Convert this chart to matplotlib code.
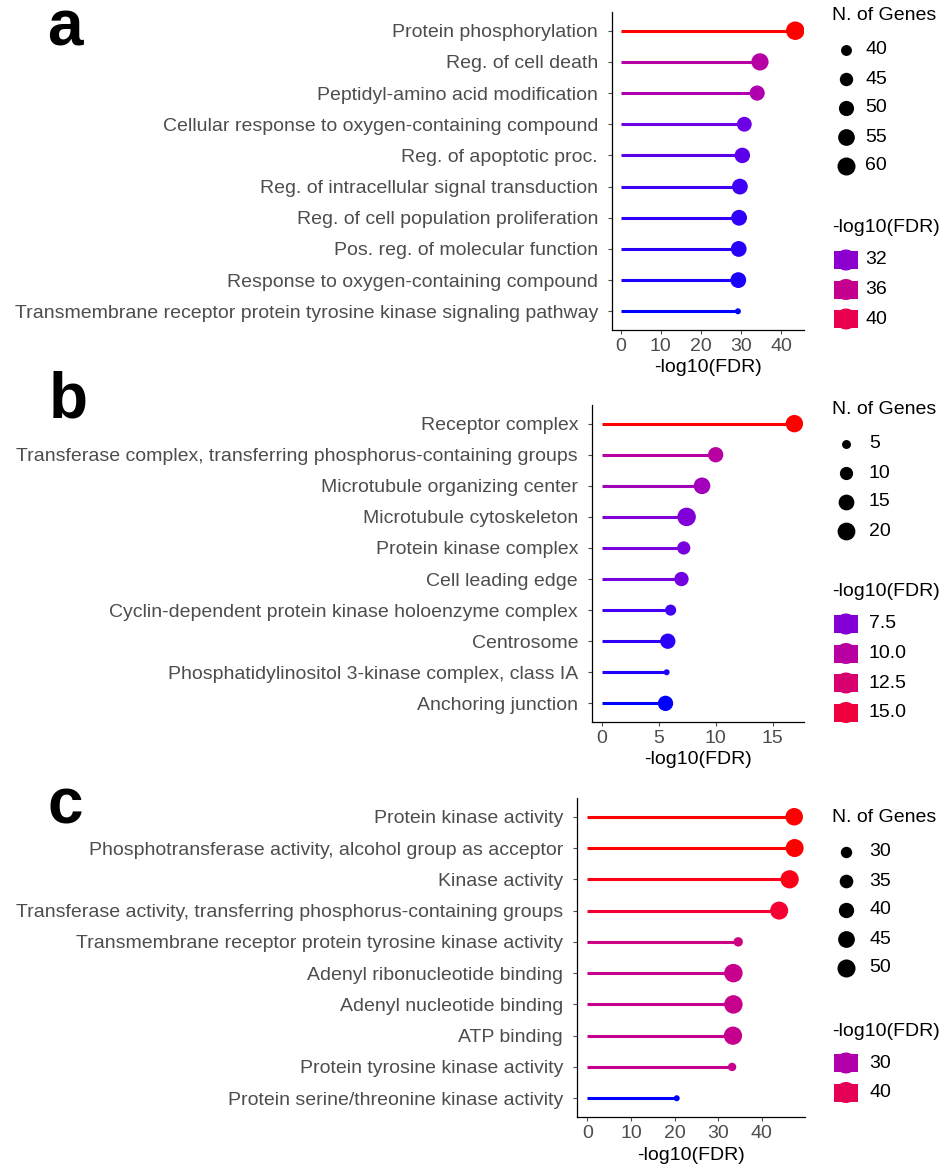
import numpy as np
import matplotlib
matplotlib.use("Agg")
import matplotlib.pyplot as plt
from matplotlib.patches import Rectangle, Circle
from matplotlib.ticker import MultipleLocator

plt.rcParams['font.family'] = ['Liberation Sans', 'DejaVu Sans']

W, H = 942, 1169

# a: biological process
terms_a = ["Protein phosphorylation", "Reg. of cell death", "Peptidyl-amino acid modification",
           "Cellular response to oxygen-containing compound", "Reg. of apoptotic proc.",
           "Reg. of intracellular signal transduction", "Reg. of cell population proliferation",
           "Pos. reg. of molecular function", "Response to oxygen-containing compound",
           "Transmembrane receptor protein tyrosine kinase signaling pathway"]
fdr_a = [43.5, 34.7, 34.0, 30.8, 30.3, 29.7, 29.5, 29.4, 29.3, 29.2]
genes_a = [62, 57, 50, 49, 51, 52, 52, 52, 52, 36]
size_breaks_a = [40, 45, 50, 55, 60]
color_breaks_a = [32, 36, 40]

# b: cellular component
terms_b = ["Receptor complex", "Transferase complex, transferring phosphorus-containing groups",
           "Microtubule organizing center", "Microtubule cytoskeleton", "Protein kinase complex",
           "Cell leading edge", "Cyclin-dependent protein kinase holoenzyme complex", "Centrosome",
           "Phosphatidylinositol 3-kinase complex, class IA", "Anchoring junction"]
fdr_b = [16.9, 10.0, 8.8, 7.45, 7.2, 7.0, 6.05, 5.8, 5.7, 5.6]
genes_b = [19, 14, 17, 22, 10, 12, 7, 14, 4, 14]
size_breaks_b = [5, 10, 15, 20]
color_breaks_b = [7.5, 10.0, 12.5, 15.0]

# c: molecular function
terms_c = ["Protein kinase activity", "Phosphotransferase activity, alcohol group as acceptor",
           "Kinase activity", "Transferase activity, transferring phosphorus-containing groups",
           "Transmembrane receptor protein tyrosine kinase activity", "Adenyl ribonucleotide binding",
           "Adenyl nucleotide binding", "ATP binding", "Protein tyrosine kinase activity",
           "Protein serine/threonine kinase activity"]
fdr_c = [47.45, 47.55, 46.4, 44.0, 34.6, 33.5, 33.5, 33.4, 33.2, 20.5]
genes_c = [48, 50, 51, 50, 27, 52, 52, 51, 26, 25]
size_breaks_c = [30, 35, 40, 45, 50]
color_breaks_c = [30, 40]

GRAY = "#4D4D4D"
WHITE = np.array([0.95047, 1.0, 1.08883])
M = np.array([[0.4124, 0.3576, 0.1805], [0.2126, 0.7152, 0.0722], [0.0193, 0.1192, 0.9505]])


def rgb_to_lab(rgb):
    c = np.asarray(rgb, float)
    lin = np.where(c <= 0.04045, c / 12.92, ((c + 0.055) / 1.055) ** 2.4)
    xyz = M @ lin / WHITE
    d = 6 / 29
    f = np.where(xyz > d ** 3, np.cbrt(xyz), xyz / (3 * d * d) + 4 / 29)
    return np.array([116 * f[1] - 16, 500 * (f[0] - f[1]), 200 * (f[1] - f[2])])


def lab_to_rgb(lab):
    L, a, b = lab
    fy = (L + 16) / 116
    f = np.array([fy + a / 500, fy, fy - b / 200])
    d = 6 / 29
    xyz = np.where(f > d, f ** 3, 3 * d * d * (f - 4 / 29)) * WHITE
    lin = np.linalg.solve(M, xyz)
    lin = np.clip(lin, 0, 1)
    rgb = np.where(lin <= 0.0031308, 12.92 * lin, 1.055 * lin ** (1 / 2.4) - 0.055)
    return np.clip(rgb, 0, 1)


LOW = rgb_to_lab([0, 0, 1])
HIGH = rgb_to_lab([1, 0, 0])


def grad(v, lo, hi):
    t = (np.asarray(v, float) - lo) / (hi - lo)
    return [lab_to_rgb(LOW + (HIGH - LOW) * ti) for ti in np.atleast_1d(t)]


def diam(n, lo, hi, dmin=6.0, dmax=18.5):
    # point diameter in pixels, area-style scaling like scale_size
    t = np.clip((np.asarray(n, float) - lo) / (hi - lo), 0, 1)
    return dmin + (dmax - dmin) * np.sqrt(t)


def s_pts(d_px):
    return (np.asarray(d_px) * 72 / 100) ** 2


def draw_panel(box, terms, fdr, genes, step):
    l, t, r, b = box
    ax = fig.add_axes([l / W, 1 - b / H, (r - l) / W, (b - t) / H])
    y = np.arange(len(terms))
    cols = grad(fdr, min(fdr), max(fdr))
    d = diam(genes, min(genes), max(genes))
    ax.hlines(y, 0, fdr, colors=cols, lw=2.2, zorder=2)
    ax.scatter(fdr, y, s=s_pts(d), c=cols, linewidths=0, zorder=3)
    ax.set_yticks(y, terms)
    ax.set_ylim(len(terms) - 0.4, -0.6)
    xmax = max(fdr)
    ax.set_xlim(-0.05 * xmax, 1.05 * xmax)
    ax.xaxis.set_major_locator(MultipleLocator(step))
    for s in ("top", "right"):
        ax.spines[s].set_visible(False)
    for s in ("left", "bottom"):
        ax.spines[s].set_linewidth(0.9)
    ax.tick_params(axis="y", length=3, width=0.8, color=GRAY, pad=7, labelsize=14, labelcolor=GRAY)
    ax.tick_params(axis="x", length=3, width=0.8, color=GRAY, pad=3, labelsize=14, labelcolor=GRAY)
    ax.set_xlabel("-log10(FDR)", fontsize=14, labelpad=3)
    return ax


def draw_legend(x0, y_size, size_breaks, genes, x_lab, y_col, color_breaks, fdr):
    lg.text(x0, y_size, "N. of Genes", fontsize=14, va="center", ha="left")
    for i, v in enumerate(size_breaks):
        yy = y_size + 34 + i * 29
        lg.scatter([846], [yy], s=s_pts(diam(v, min(genes), max(genes))), c="black", linewidths=0)
        lg.text(x_lab, yy, str(v), fontsize=14, va="center", ha="left")
    lg.text(x0, y_col, "-log10(FDR)", fontsize=14, va="center", ha="left")
    cols = grad(color_breaks, min(fdr), max(fdr))
    for i, (v, c) in enumerate(zip(color_breaks, cols)):
        yy = y_col + 32 + i * 29.5
        lg.add_patch(Rectangle((846 - 12, yy - 9), 24, 18, color=c, lw=0))
        lg.add_patch(Circle((846, yy), 10.5, color=c, lw=0))
        lg.text(x_lab, yy, f"{v:g}" if isinstance(v, int) else f"{v:.1f}",
                fontsize=14, va="center", ha="left")


fig = plt.figure(figsize=(W / 100, H / 100), dpi=100)

lg = fig.add_axes([0, 0, 1, 1], zorder=-1)
lg.set_xlim(0, W)
lg.set_ylim(H, 0)
lg.axis("off")

draw_panel((612, 12, 804, 330), terms_a, fdr_a, genes_a, 10)
draw_panel((592, 405, 804, 722), terms_b, fdr_b, genes_b, 5)
draw_panel((577, 798, 805, 1117), terms_c, fdr_c, genes_c, 10)

draw_legend(832, 16, size_breaks_a, genes_a, 865, 228, color_breaks_a, fdr_a)
draw_legend(832, 410, size_breaks_b, genes_b, 869, 592, color_breaks_b, fdr_b)
draw_legend(832, 818, size_breaks_c, genes_c, 869, 1031, color_breaks_c, fdr_c)

for letter, x, yb in (("a", 47, 45), ("b", 49, 418), ("c", 47, 823)):
    lg.text(x, yb, letter, fontsize=46, fontweight="bold", va="baseline", ha="left")

fig.savefig("out.png", dpi=100)
